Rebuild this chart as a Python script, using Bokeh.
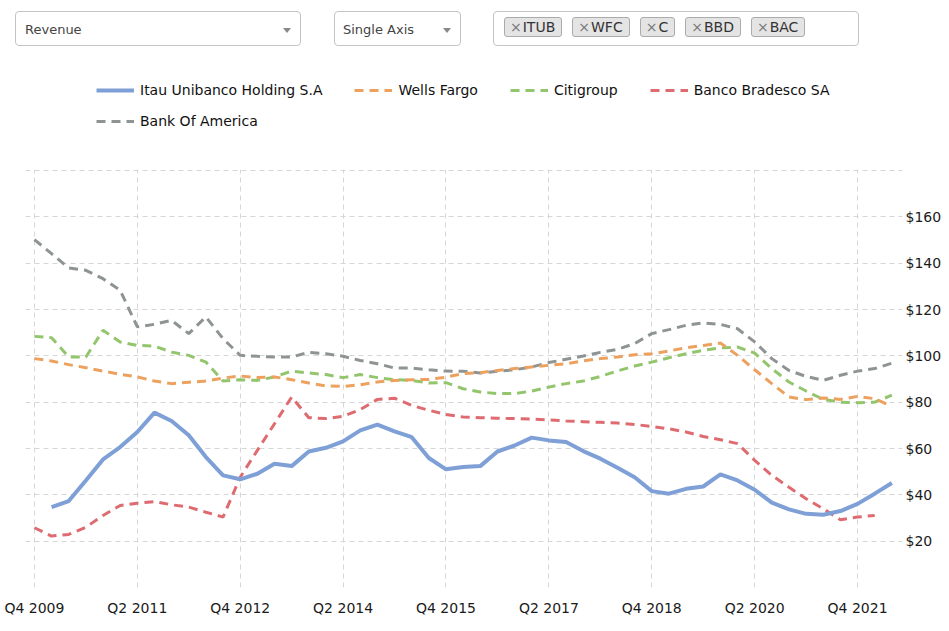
from bokeh.plotting import figure
from bokeh.models import (Range1d, FixedTicker, Legend, LegendItem, Div, ColumnDataSource, BoxAnnotation)
from bokeh.layouts import column
from bokeh.embed import file_html
from bokeh.resources import INLINE

nan = float("nan")

quarters = ["Q4 2009", "Q1 2010", "Q2 2010", "Q3 2010", "Q4 2010", "Q1 2011", "Q2 2011", "Q3 2011",
            "Q4 2011", "Q1 2012", "Q2 2012", "Q3 2012", "Q4 2012", "Q1 2013", "Q2 2013", "Q3 2013",
            "Q4 2013", "Q1 2014", "Q2 2014", "Q3 2014", "Q4 2014", "Q1 2015", "Q2 2015", "Q3 2015",
            "Q4 2015", "Q1 2016", "Q2 2016", "Q3 2016", "Q4 2016", "Q1 2017", "Q2 2017", "Q3 2017",
            "Q4 2017", "Q1 2018", "Q2 2018", "Q3 2018", "Q4 2018", "Q1 2019", "Q2 2019", "Q3 2019",
            "Q4 2019", "Q1 2020", "Q2 2020", "Q3 2020", "Q4 2020", "Q1 2021", "Q2 2021", "Q3 2021",
            "Q4 2021", "Q1 2022", "Q2 2022"]

itub = [nan, 34.7, 37.3, 46.2, 55.3, 60.6, 67.1, 75.5, 71.9, 65.7, 56.3, 48.4, 46.7, 49.1, 53.4, 52.4,
        58.7, 60.3, 63.1, 67.8, 70.3, 67.4, 64.9, 55.9, 51.0, 52.0, 52.4, 58.7, 61.3, 64.7, 63.5, 62.8,
        58.9, 55.6, 51.7, 47.6, 41.6, 40.5, 42.6, 43.6, 48.8, 46.2, 42.2, 36.6, 33.7, 31.8, 31.4, 33.0,
        36.1, 40.5, 45.1]

wfc = [98.8, 97.8, 96.2, 94.9, 93.4, 92.0, 90.9, 89.1, 88.0, 88.6, 89.1, 90.4, 91.3, 90.6, 90.9, 89.7,
       88.3, 87.0, 86.8, 87.5, 88.7, 89.4, 89.7, 89.8, 90.8, 92.3, 92.7, 93.7, 94.5, 95.2, 95.9, 96.6,
       97.8, 98.8, 99.5, 100.5, 100.9, 102.1, 103.5, 104.5, 105.5, 100.2, 94.0, 88.0, 82.2, 81.1, 81.8,
       81.2, 82.5, 81.5, 78.2]

citi = [108.4, 107.8, 99.5, 99.5, 111.0, 106.0, 104.5, 104.2, 101.6, 100.2, 97.3, 89.1, 89.7, 89.4,
        90.9, 93.4, 92.6, 91.9, 90.6, 91.9, 90.6, 89.7, 89.4, 88.3, 88.4, 85.8, 84.4, 83.7, 83.7, 84.8,
        86.5, 88.0, 89.1, 91.1, 93.5, 95.6, 97.3, 99.2, 100.9, 102.4, 103.4, 103.8, 101.2, 94.5, 88.7,
        84.8, 81.2, 80.0, 79.8, 80.0, 83.0]

bbd = [25.8, 22.2, 22.9, 26.0, 31.1, 35.4, 36.4, 37.1, 35.7, 34.7, 32.5, 30.4, 47.6, 59.2, 70.7, 82.2,
       73.3, 72.9, 73.9, 76.8, 81.2, 81.7, 78.6, 76.5, 74.7, 73.6, 73.3, 73.1, 72.9, 72.7, 72.3, 71.9,
       71.6, 71.3, 71.0, 70.4, 69.5, 68.5, 67.1, 65.2, 63.8, 62.1, 54.9, 48.4, 43.3, 38.3, 34.0, 29.2,
       30.4, 31.1, nan]

bac = [150.2, 144.1, 137.9, 136.9, 133.3, 128.3, 112.5, 113.6, 115.3, 109.6, 116.8, 107.4, 100.2,
       99.8, 99.5, 99.5, 101.5, 100.9, 99.8, 98.0, 96.6, 94.7, 94.7, 94.0, 93.4, 93.3, 92.6, 93.3, 94.0,
       95.2, 97.1, 98.5, 99.9, 101.5, 102.8, 105.3, 109.6, 111.3, 113.2, 114.2, 113.6, 111.7, 106.0,
       98.8, 93.7, 91.1, 89.4, 91.6, 93.4, 94.5, 96.8]

series_names = ["Itau Unibanco Holding S.A", "Wells Fargo", "Citigroup", "Banco Bradesco SA", "Bank Of America"]
tickers = ["ITUB", "WFC", "C", "BBD", "BAC"]
y_ticks = [20, 40, 60, 80, 100, 120, 140, 160]
y_grid = [0, 20, 40, 60, 80, 100, 120, 140, 160, 180]
y_grid_top = 180
x_tick_step = 6

FONT = "DejaVu Sans"
idx = list(range(len(quarters)))
src = ColumnDataSource(dict(x=idx, itub=itub, wfc=wfc, citi=citi, bbd=bbd, bac=bac))

# frame extends above the grid so the legend (drawn in the frame) is not clipped
FRAME_H = 517
GRID_H = 417
p = figure(width=949, height=571, output_backend="svg", toolbar_location=None,
           x_range=Range1d(-0.52, 50.62), y_range=Range1d(0, y_grid_top * FRAME_H / GRID_H),
           y_axis_location="right", min_border_left=25, min_border_right=47,
           min_border_top=10, min_border_bottom=44, outline_line_color=None,
           background_fill_color="white", border_fill_color="white", margin=0,
           title_location=None)

colors = {"bac": "#8e9393", "citi": "#93c56c", "wfc": "#eca15f", "bbd": "#de6b70", "itub": "#7ea0d6"}
r_bac = p.line("x", "bac", source=src, line_color=colors["bac"], line_width=3, line_dash="9 6")
r_citi = p.line("x", "citi", source=src, line_color=colors["citi"], line_width=3, line_dash="9 6")
r_wfc = p.line("x", "wfc", source=src, line_color=colors["wfc"], line_width=3, line_dash="9 6")
r_bbd = p.line("x", "bbd", source=src, line_color=colors["bbd"], line_width=3, line_dash="9 6")
r_itub = p.line("x", "itub", source=src, line_color=colors["itub"], line_width=4)

xt = idx[::x_tick_step]
p.xaxis.ticker = FixedTicker(ticks=xt)
p.xaxis.major_label_overrides = {i: quarters[i] for i in xt}
p.yaxis.ticker = FixedTicker(ticks=y_ticks)
p.yaxis.major_label_overrides = {v: "$" + str(v) for v in y_ticks}
p.ygrid.ticker = FixedTicker(ticks=y_grid)
p.xgrid.ticker = FixedTicker(ticks=xt)

for ax in (p.xaxis[0], p.yaxis[0]):
    ax.axis_line_color = None
    ax.major_tick_line_color = None
    ax.minor_tick_line_color = None
    ax.major_label_text_font = FONT
    ax.major_label_text_font_size = "14px"
    ax.major_label_text_color = "#1a1a1a"
p.xaxis.major_label_standoff = 6
p.yaxis.major_label_standoff = -3

for g in (p.xgrid[0], p.ygrid[0]):
    g.grid_line_color = "#d6d6d6"
    g.grid_line_dash = "5 4"
    g.grid_line_width = 1

# white mask hiding the vertical grid lines above the top grid line (legend area)
p.add_layout(BoxAnnotation(bottom=y_grid_top + 0.35, fill_color="white", fill_alpha=1.0,
                           line_alpha=0, level="underlay"))

def mk_legend(items, loc):
    return Legend(items=items, orientation="horizontal", location=loc,
                  label_text_font=FONT, label_text_font_size="14px", label_text_color="#111111",
                  glyph_width=38, glyph_height=20, label_height=20, label_standoff=6, spacing=32,
                  padding=0, margin=0, border_line_alpha=0, background_fill_alpha=0)

leg1 = mk_legend([LegendItem(label=series_names[0], renderers=[r_itub]),
                  LegendItem(label=series_names[1], renderers=[r_wfc]),
                  LegendItem(label=series_names[2], renderers=[r_citi]),
                  LegendItem(label=series_names[3], renderers=[r_bbd])], (71, 487))
leg2 = mk_legend([LegendItem(label=series_names[4], renderers=[r_bac])], (71, 456))
p.add_layout(leg1)
p.add_layout(leg2)

tri = ("position:absolute;top:16px;width:0;height:0;border-left:4px solid transparent;"
       "border-right:4px solid transparent;border-top:5px solid #888;")
box = "position:absolute;top:11px;height:35px;border:1px solid #c4c4c4;border-radius:4px;background:#fff;"
tags_html = "".join(
    f'<span style="display:inline-flex;align-items:center;height:20px;padding:0 6px 0 5px;'
    f'background:#e4e4e4;border:1px solid #ababab;border-radius:3px;font-size:14px;color:#333;">'
    f'<span style="color:#777;margin-right:1px;">&times;</span>{t}</span>'
    for t in tickers)
html = f'''<div style="position:relative;width:949px;height:60px;font-family:'DejaVu Sans',Verdana,sans-serif;">
<div style="{box}left:15px;width:286px;">
 <span style="position:absolute;left:9px;top:9px;font-size:13px;color:#444;">Revenue</span>
 <span style="{tri}right:9px;"></span></div>
<div style="{box}left:334px;width:127px;">
 <span style="position:absolute;left:8px;top:9px;font-size:13px;color:#444;">Single Axis</span>
 <span style="{tri}right:9px;"></span></div>
<div style="{box}left:493px;width:366px;">
 <div style="position:absolute;left:10px;top:5px;display:flex;gap:10px;">{tags_html}</div></div>
</div>'''
div = Div(text=html, width=949, height=60, margin=0)

layout = column(div, p, spacing=0, margin=0)
open("out.html", "w").write(file_html(layout, INLINE))
